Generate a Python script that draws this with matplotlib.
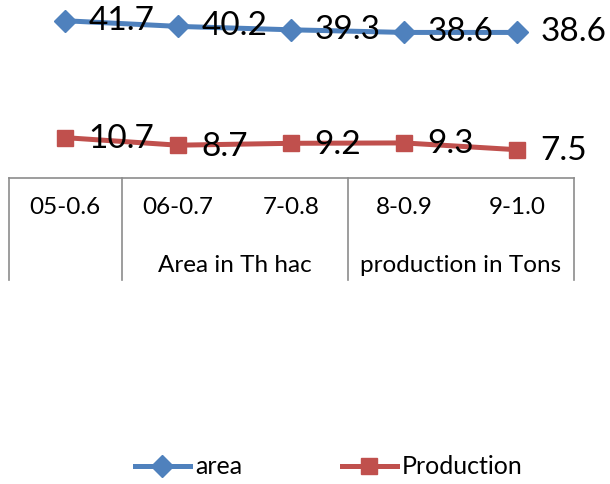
import matplotlib
matplotlib.use("Agg")
import matplotlib.pyplot as plt
import matplotlib.transforms as mtransforms

# data
categories = ["05-0.6", "06-0.7", "7-0.8", "8-0.9", "9-1.0"]
area = [41.7, 40.2, 39.3, 38.6, 38.6]
production = [10.7, 8.7, 9.2, 9.3, 7.5]
groups = ["Area in Th hac", "production in Tons"]
group_spans = [(1, 2), (3, 4)]

blue = "#4F81BD"
red = "#C0504D"
grey = "#8C8C8C"
plt.rcParams["font.family"] = ["Lato", "DejaVu Sans"]

W, H = 610, 484
fig = plt.figure(figsize=(W / 100, H / 100), dpi=100)
ax = fig.add_axes([8.5 / W, 1 - 178 / H, 565 / W, 178 / H])

x = list(range(len(categories)))
ax.plot(x, area, color=blue, lw=3.6, marker="D", ms=11, label="area", clip_on=False)
ax.plot(x, production, color=red, lw=3.6, marker="s", ms=11, label="Production", clip_on=False)

for i, v in enumerate(area):
    ax.annotate(f"{v}", (i, v), xytext=(17, 0), textcoords="offset points",
                ha="left", va="center", fontsize=24, annotation_clip=False)
for i, v in enumerate(production):
    ax.annotate(f"{v}", (i, v), xytext=(17, -1), textcoords="offset points",
                ha="left", va="center", fontsize=24, annotation_clip=False)

ax.set_xlim(-0.5, len(categories) - 0.5)
ax.set_ylim(0, 47.2)
ax.set_yticks([])
for s in ["top", "right", "left"]:
    ax.spines[s].set_visible(False)
ax.spines["bottom"].set_color(grey)
ax.spines["bottom"].set_linewidth(1.2)

ax.set_xticks(x, categories, fontsize=17.5)
ax.tick_params(axis="x", length=0, pad=14)

# multi-level category axis: separators and group labels
trans = mtransforms.blended_transform_factory(ax.transData, ax.transAxes)
depth = -102 / 178
bounds = [-0.5, 0.5, 2.5, len(categories) - 0.5]
for b in bounds:
    ax.plot([b, b], [0, depth], color=grey, lw=1.2, transform=trans, clip_on=False)
for name, (a, b) in zip(groups, group_spans):
    ax.text((a + b) / 2, -87 / 178, name, transform=trans, ha="center", va="center",
            fontsize=17.5)

fig.legend(loc="center", bbox_to_anchor=(0.539, 1 - 467 / H), ncol=2, frameon=False,
           fontsize=18, handlelength=2.2, columnspacing=4.0, handletextpad=0.2)

fig.savefig("out.png", dpi=100)
